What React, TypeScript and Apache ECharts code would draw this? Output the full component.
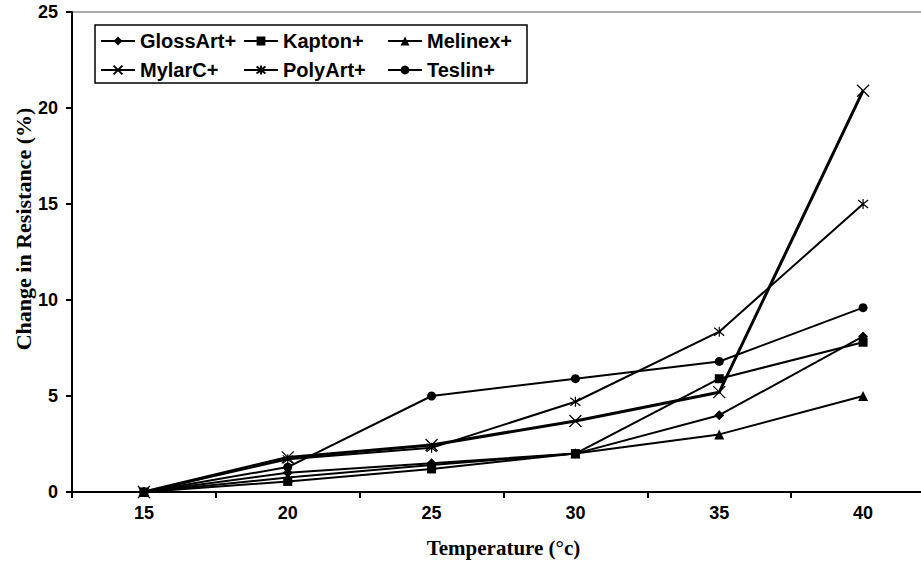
import React, { useEffect, useRef } from "react";
import * as echarts from "echarts";

const categories = ["15", "20", "25", "30", "35", "40"];
const glossArt = [0, 1.0, 1.5, 2.0, 4.0, 8.1];
const kapton = [0, 0.55, 1.2, 2.0, 5.9, 7.8];
const melinex = [0, 0.75, 1.4, 2.0, 3.0, 5.0];
const mylarC = [0, 1.8, 2.45, 3.7, 5.2, 20.9];
const polyArt = [0, 1.7, 2.3, 4.7, 8.35, 15.0];
const teslin = [0, 1.3, 5.0, 5.9, 6.8, 9.6];
const yTicks = [0, 5, 10, 15, 20, 25];
const yTitle = "Change in Resistance (%)";
const xTitle = "Temperature (°c)";

const X_SYMBOL = "path://M0,0L10,10M10,0L0,10";
const STAR_SYMBOL = "path://M5,0L5,10M1,1L9,9M9,1L1,9";

export default function App() {
  const ref = useRef<HTMLDivElement>(null);
  useEffect(() => {
    if (!ref.current) return;
    const chart = echarts.init(ref.current, undefined, { renderer: "svg" });
    const mk = (name: string, data: number[], symbol: string, size: number, width: number, stroke = false) => ({
      name,
      type: "line",
      data,
      symbol,
      symbolSize: size,
      showAllSymbol: true,
      lineStyle: { color: "#000", width },
      itemStyle: stroke
        ? { color: "#000", borderColor: "#000", borderWidth: 1.2 }
        : { color: "#000", borderWidth: 0 },
      emphasis: { disabled: true },
      z: 2,
    });
    const legendText = { fontFamily: "Liberation Sans", fontWeight: "bold", fontSize: 20, color: "#000" };
    const legendAt = (name: string, left: number, top: number) => ({
      data: [name],
      left,
      top,
      itemWidth: 34,
      itemHeight: 11,
      itemGap: 0,
      padding: 0,
      textStyle: legendText,
      selectedMode: false,
    });
    const yMax = yTicks[yTicks.length - 1];
    const nameFont = { fontFamily: "Liberation Serif", fontWeight: "bold", fontSize: 21, color: "#000" };
    const tickFont = { fontFamily: "Liberation Sans", fontWeight: "bold", fontSize: 18, color: "#000" };
    chart.setOption({
      animation: false,
      backgroundColor: "#fff",
      grid: {
        left: 72, right: -14, top: 12, bottom: 73,
        outerBoundsMode: "none",
        containLabel: false,
        show: true, borderColor: "#555", borderWidth: 1,
      },
      legend: [
        legendAt("GlossArt+", 100, 31),
        legendAt("Kapton+", 243, 31),
        legendAt("Melinex+", 387, 31),
        legendAt("MylarC+", 100, 60),
        legendAt("PolyArt+", 243, 60),
        legendAt("Teslin+", 387, 60),
      ],
      graphic: [
        {
          type: "rect",
          shape: { x: 95, y: 25, width: 432, height: 58 },
          style: { fill: "none", stroke: "#000", lineWidth: 1.5 },
          z: 10,
        },
        {
          type: "text",
          x: 23,
          y: 229,
          rotation: Math.PI / 2,
          style: {
            text: yTitle,
            align: "center",
            verticalAlign: "middle",
            font: "bold 22px 'Liberation Serif'",
            fill: "#000",
          },
        },
      ],
      xAxis: {
        type: "category",
        data: categories,
        boundaryGap: true,
        name: xTitle,
        nameLocation: "middle",
        nameGap: 45,
        nameTextStyle: nameFont,
        axisLine: { show: true, lineStyle: { color: "#000", width: 2 } },
        axisTick: { show: true, length: 6, lineStyle: { color: "#000", width: 2 }, interval: 0 },
        axisLabel: { ...tickFont, margin: 12, interval: 0 },
        splitLine: { show: false },
      },
      yAxis: {
        type: "value",
        min: 0,
        max: yMax,
        interval: 5,
        axisLine: { show: true, lineStyle: { color: "#000", width: 2 } },
        axisTick: { show: true, length: 6, lineStyle: { color: "#000", width: 2 } },
        axisLabel: { ...tickFont, margin: 14 },
        splitLine: { show: false },
      },
      series: [
        mk("GlossArt+", glossArt, "diamond", 10, 2),
        mk("Kapton+", kapton, "rect", 9, 2),
        mk("Melinex+", melinex, "triangle", 10, 2),
        mk("MylarC+", mylarC, X_SYMBOL, 12, 3, true),
        mk("PolyArt+", polyArt, STAR_SYMBOL, 10, 2, true),
        mk("Teslin+", teslin, "circle", 9, 2),
      ],
    });
    return () => chart.dispose();
  }, []);
  return <div ref={ref} style={{ position: "fixed", left: 0, top: 0, width: 921, height: 565 }} />;
}
